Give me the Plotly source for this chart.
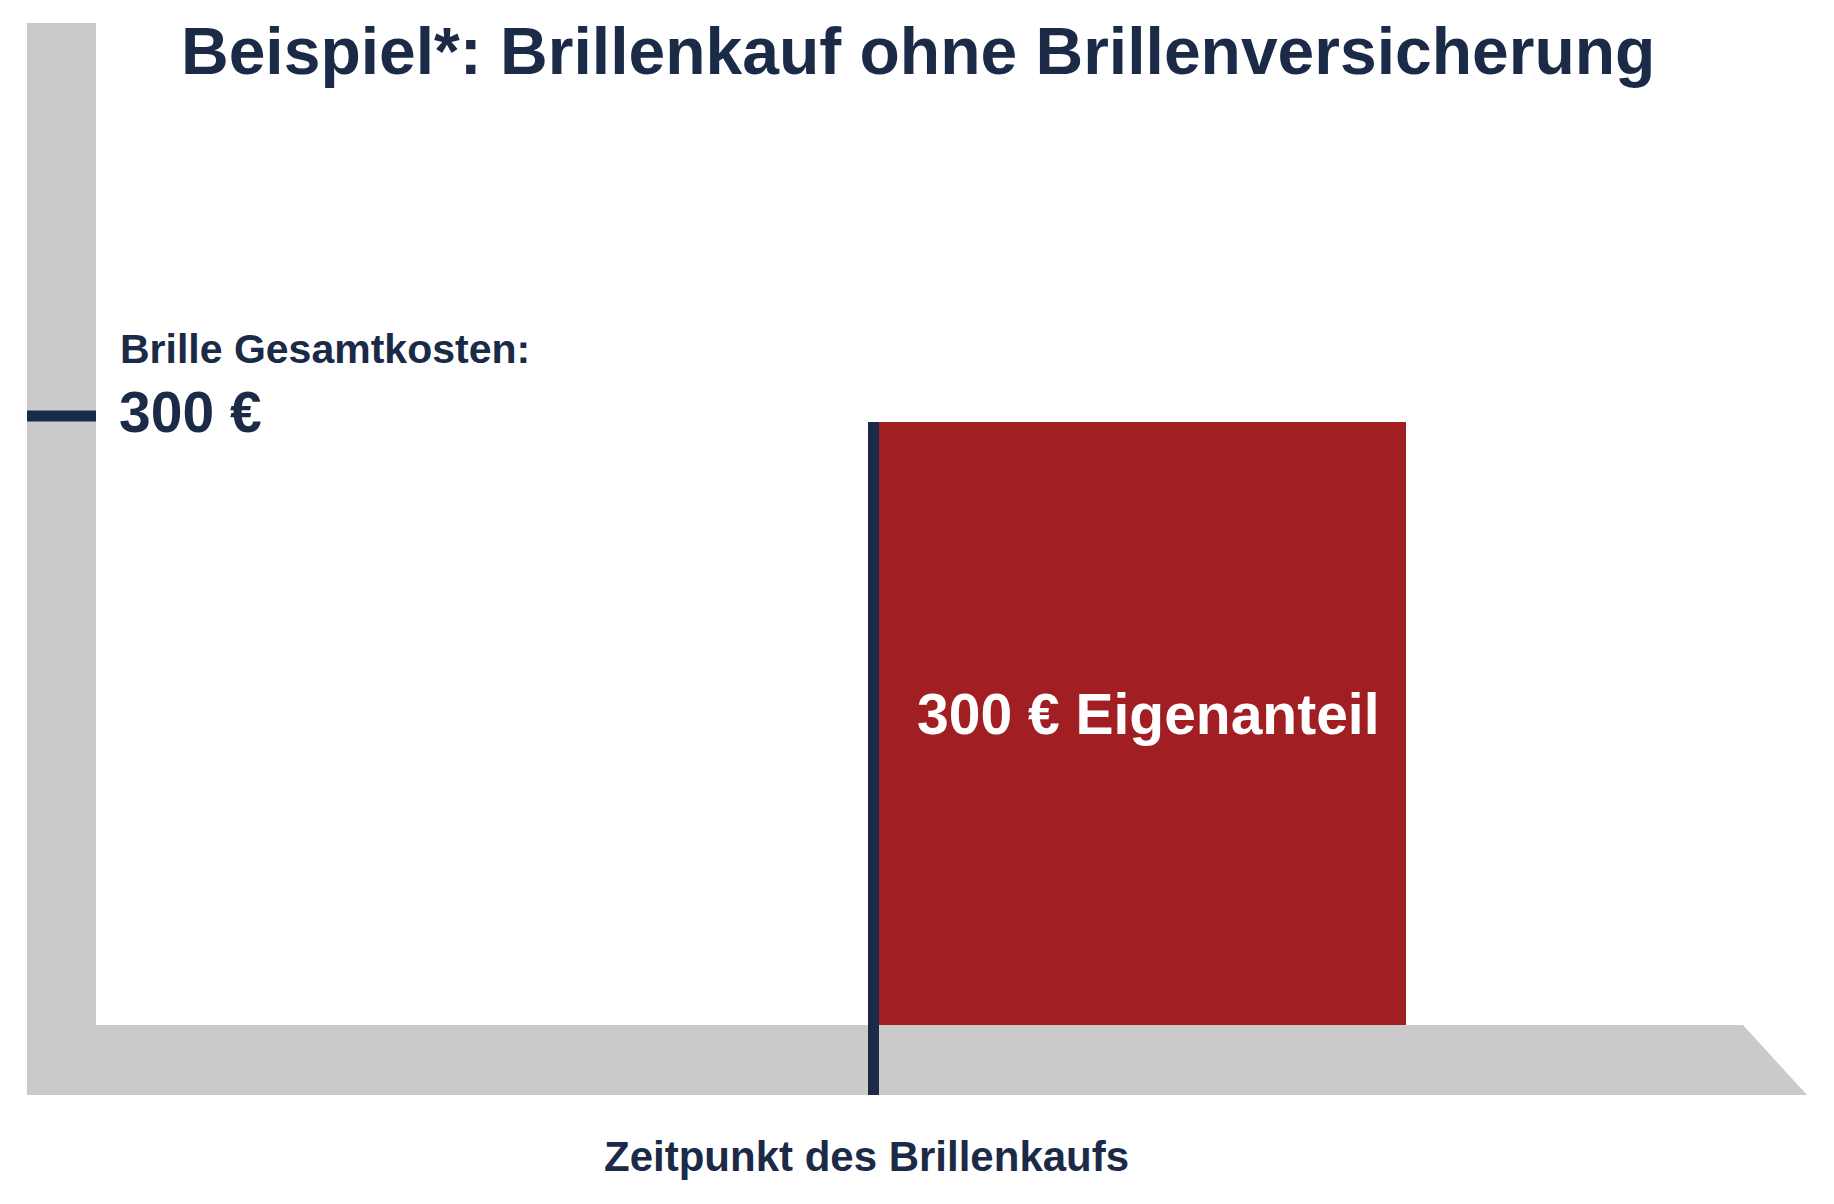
import plotly.graph_objects as go

# ---- data ----
categories = ["Zeitpunkt des Brillenkaufs"]
kosten_gesamt = [300]
eigenanteil = [300]
bar_labels = ["300 € Eigenanteil"]
title_text = "Beispiel*: Brillenkauf ohne Brillenversicherung"
y_label_top = "Brille Gesamtkosten:"
y_label_value = "300 €"

NAVY = "#1b2a47"
RED = "#a11e22"
GRAY = "#cacaca"
FONT = "Liberation Sans, Arial, sans-serif"

OFF = 8                    # page body margin
W, H = 1834 - 2 * OFF, 1204 - 2 * OFF
PX_PER_UNIT = 2.01
Y0_PX = 1025               # screen row of value 0


def px(x):
    return (x - OFF) / W


def py(y):
    return 1 - (y - OFF) / H


def val_to_paper(v):
    return py(Y0_PX - v * PX_PER_UNIT)


fig = go.Figure()

fig.add_trace(go.Bar(
    x=[1142.5],
    y=eigenanteil,
    width=527,
    marker=dict(color=RED, line=dict(width=0)),
    hoverinfo="skip",
))

shapes = []
# vertical gray axis
shapes.append(dict(type="rect", xref="paper", yref="paper",
                   x0=px(27), x1=px(96), y0=py(1095), y1=py(23),
                   fillcolor=GRAY, line=dict(width=0), layer="below"))
# horizontal gray axis (trapezoid)
shapes.append(dict(type="path", xref="paper", yref="paper",
                   path=f"M {px(27)},{py(1025)} L {px(1743)},{py(1025)} L {px(1807)},{py(1095)} L {px(27)},{py(1095)} Z",
                   fillcolor=GRAY, line=dict(width=0), layer="below"))
# tick at total cost
shapes.append(dict(type="line", xref="paper", yref="paper",
                   x0=px(27), x1=px(96),
                   y0=val_to_paper(kosten_gesamt[0]) + 6 / H,
                   y1=val_to_paper(kosten_gesamt[0]) + 6 / H,
                   line=dict(color=NAVY, width=11)))
# purchase time line
shapes.append(dict(type="line", xref="paper", yref="paper",
                   x0=px(873.5), x1=px(873.5),
                   y0=val_to_paper(kosten_gesamt[0]), y1=py(1095),
                   line=dict(color=NAVY, width=11)))

annotations = [
    dict(text=f"<b>{title_text}</b>", xref="paper", yref="paper",
         x=px(918), y=py(51), xanchor="center", yanchor="middle",
         showarrow=False, font=dict(family=FONT, size=66, color=NAVY)),
    dict(text=f"<b>{y_label_top}</b>", xref="paper", yref="paper",
         x=px(118), y=py(349), xanchor="left", yanchor="middle",
         showarrow=False, font=dict(family=FONT, size=41, color=NAVY)),
    dict(text=f"<b>{y_label_value}</b>", xref="paper", yref="paper",
         x=px(117), y=py(412), xanchor="left", yanchor="middle",
         showarrow=False, font=dict(family=FONT, size=57, color=NAVY)),
    dict(text=f"<b>{categories[0]}</b>", xref="paper", yref="paper",
         x=px(866), y=py(1156), xanchor="center", yanchor="middle",
         showarrow=False, font=dict(family=FONT, size=42, color=NAVY)),
    dict(text=f"<b>{bar_labels[0]}</b>", xref="x", yref="y",
         x=1148, y=eigenanteil[0] / 2, yshift=10,
         xanchor="center", yanchor="middle",
         showarrow=False, font=dict(family=FONT, size=57, color="white")),
]

fig.update_layout(
    width=W, height=H,
    margin=dict(l=0, r=0, t=0, b=0),
    paper_bgcolor="white", plot_bgcolor="rgba(0,0,0,0)",
    showlegend=False,
    shapes=shapes,
    annotations=annotations,
    xaxis=dict(range=[OFF, OFF + W], visible=False, fixedrange=True),
    yaxis=dict(range=[-(OFF + H - Y0_PX) / PX_PER_UNIT, (Y0_PX - OFF) / PX_PER_UNIT],
               visible=False, fixedrange=True),
    bargap=0,
)

fig.write_html("out.html", config={"displayModeBar": False})
